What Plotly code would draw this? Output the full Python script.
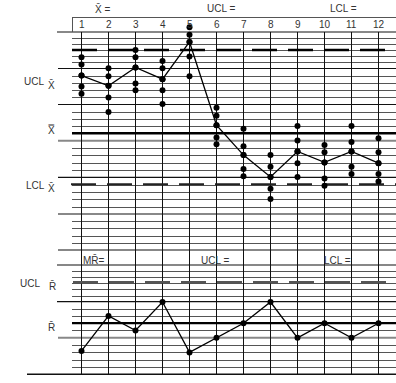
import plotly.graph_objects as go

W, H = 396, 383

# ---------------- data ----------------
subgroups = list(range(1, 13))
col_labels = [str(i) for i in subgroups]

# five individual readings for each subgroup (upper chart units)
obs_1 = [26.4, 25.4, 23.9, 22.4, 21.4]
obs_2 = [24.9, 23.8, 22.5, 20.9, 18.9]
obs_3 = [27.4, 26.4, 25.0, 22.8, 21.9]
obs_4 = [25.9, 24.9, 23.4, 21.9, 20.0]
obs_5 = [30.5, 29.5, 28.5, 26.5, 23.8]
obs_6 = [19.5, 18.4, 17.1, 15.4, 14.5]
obs_7 = [16.6, 14.2, 13.0, 11.1, 10.1]
obs_8 = [13.0, 11.4, 10.0, 8.4, 7.0]
obs_9 = [17.0, 15.0, 13.5, 11.9, 10.0]
obs_10 = [14.4, 13.4, 12.0, 9.8, 8.8]
obs_11 = [17.0, 14.8, 13.5, 11.4, 10.4]
obs_12 = [15.3, 13.4, 11.9, 10.4, 9.4]
observations = [obs_1, obs_2, obs_3, obs_4, obs_5, obs_6,
                obs_7, obs_8, obs_9, obs_10, obs_11, obs_12]

# plotted subgroup averages
xbar = [23.9, 22.5, 25.0, 23.4, 28.5, 17.1, 13.0, 10.0, 13.5, 12.0, 13.5, 11.9]
# moving ranges
mr = [3.2, 8.0, 6.0, 9.9, 3.0, 5.0, 7.0, 9.9, 5.0, 7.0, 5.0, 7.0]

ucl_x = 27.4
center_x = 16.0
lcl_x = 9.0
ucl_r = 12.6
center_r = 7.0

# ---------------- layout helpers (pixel geometry of the form) ----------------
def fx(px):
    return px / W

def fy(py):
    return 1 - py / H

INK = "#111111"
GRID = "#555555"
GRAY = "#888888"
FONT = "Liberation Sans, Arial, sans-serif"

shapes = []

def hline(y, x0, x1=W, color=GRID, width=1):
    shapes.append(dict(type="line", xref="paper", yref="paper",
                       x0=fx(x0), x1=fx(x1), y0=fy(y), y1=fy(y),
                       line=dict(color=color, width=width), layer="below"))

# long section lines
long_lines = [(32, GRAY, 2, 57), (68.5, INK, 1.2, 58), (104.5, INK, 1.2, 58),
              (140.7, GRAY, 2, 58), (177.3, INK, 1.2, 58), (214, GRAY, 2, 58),
              (250, INK, 1.2, 58), (265, INK, 1.2, 57), (301.7, INK, 1.2, 57),
              (337.7, GRAY, 2, 58), (374.3, INK, 1.5, 27)]
for y, c, w, x0 in long_lines:
    hline(y, x0, color=c, width=w)

# thin grid lines inside sections
sections = [(32, 68.5, 6), (68.5, 104.5, 5), (104.5, 140.7, 5), (140.7, 177.3, 5),
            (177.3, 214, 5), (214, 250, 5), (265, 301.7, 6), (301.7, 337.7, 5),
            (337.7, 374.3, 5)]
for a, b, n in sections:
    for k in range(1, n):
        y = a + (b - a) * k / n
        hline(round(y) + 0.5, 72, color=GRID, width=1)

# header box
hline(17.5, 72, color=GRID, width=1)
shapes.append(dict(type="line", xref="paper", yref="paper", x0=fx(72.5), x1=fx(72.5),
                   y0=fy(17.5), y1=fy(32), line=dict(color=GRID, width=1), layer="below"))

# column lines
for s in subgroups:
    shapes.append(dict(type="line", xref="x", yref="paper", x0=s, x1=s,
                       y0=fy(32), y1=fy(374.3), line=dict(color=INK, width=1), layer="below"))

# control lines (data scale)
shapes.append(dict(type="line", xref="paper", yref="y", x0=fx(72), x1=1, y0=ucl_x, y1=ucl_x,
                   line=dict(color="#000000", width=2.5, dash="25px,11px"), layer="below"))
shapes.append(dict(type="line", xref="paper", yref="y", x0=fx(72), x1=1, y0=center_x, y1=center_x,
                   line=dict(color="#000000", width=2.5), layer="below"))
shapes.append(dict(type="line", xref="paper", yref="y", x0=fx(71), x1=1, y0=lcl_x, y1=lcl_x,
                   line=dict(color="#222222", width=2, dash="25px,11px"), layer="below"))
shapes.append(dict(type="line", xref="paper", yref="y2", x0=fx(73), x1=1, y0=ucl_r, y1=ucl_r,
                   line=dict(color="#555555", width=2.5, dash="25px,11px"), layer="below"))
shapes.append(dict(type="line", xref="paper", yref="y2", x0=fx(72), x1=1, y0=center_r, y1=center_r,
                   line=dict(color="#000000", width=2.2), layer="below"))

# ---------------- traces ----------------
obs_x = [s for s, grp in zip(subgroups, observations) for _ in grp]
obs_y = [v for grp in observations for v in grp]

fig = go.Figure()
fig.add_trace(go.Scatter(x=obs_x, y=obs_y, mode="markers",
                         marker=dict(color="#000000", size=6), yaxis="y",
                         showlegend=False, hoverinfo="skip"))
fig.add_trace(go.Scatter(x=subgroups, y=xbar, mode="lines+markers",
                         line=dict(color="#000000", width=1.3),
                         marker=dict(color="#000000", size=6), yaxis="y",
                         showlegend=False))
fig.add_trace(go.Scatter(x=subgroups, y=mr, mode="lines+markers",
                         line=dict(color="#000000", width=1.3),
                         marker=dict(color="#000000", size=6), yaxis="y2",
                         showlegend=False))

# ---------------- text ----------------
ann = []

def label(text, x, y, anchor="left", size=10, xref="paper"):
    ann.append(dict(text=text, xref=xref, yref="paper",
                    x=fx(x) if xref == "paper" else x, y=fy(y),
                    xanchor=anchor, yanchor="middle", showarrow=False,
                    font=dict(family=FONT, size=size, color="#333333")))

label("X\u0304 =", 93, 9)
label("UCL =", 205, 8.5)
label("LCL =", 328, 8.5)
for s, t in zip(subgroups, col_labels):
    label(t, s, 25, anchor="center", xref="x")
label("UCL", 22, 82)
label("X\u0304", 46, 85)
label("X\u033F", 46, 130)
label("LCL", 24, 185)
label("X\u0304", 46, 188)
label("MR\u0304=", 81, 260)
label("UCL =", 199, 260)
label("LCL =", 322, 260)
label("UCL", 18, 283)
label("R\u0304", 47, 286)
label("R\u0304", 46, 327)

x0_px = 81.5
step = 27.0
fig.update_layout(
    width=W, height=H, autosize=False,
    margin=dict(l=0, r=0, t=0, b=0, pad=0),
    paper_bgcolor="white", plot_bgcolor="white",
    xaxis=dict(range=[1 - x0_px / step, 1 + (W - x0_px) / step], visible=False,
               fixedrange=True),
    yaxis=dict(range=[(250 - H) / 7.3, 250 / 7.3], visible=False, fixedrange=True),
    yaxis2=dict(range=[(374.3 - H) / 7.3, 374.3 / 7.3], visible=False,
                overlaying="y", fixedrange=True),
    shapes=shapes, annotations=ann, showlegend=False,
)

fig.write_html("out.html", config={"displayModeBar": False},
               post_script="document.body.style.margin='0';document.documentElement.style.margin='0';document.body.style.overflow='hidden';")
